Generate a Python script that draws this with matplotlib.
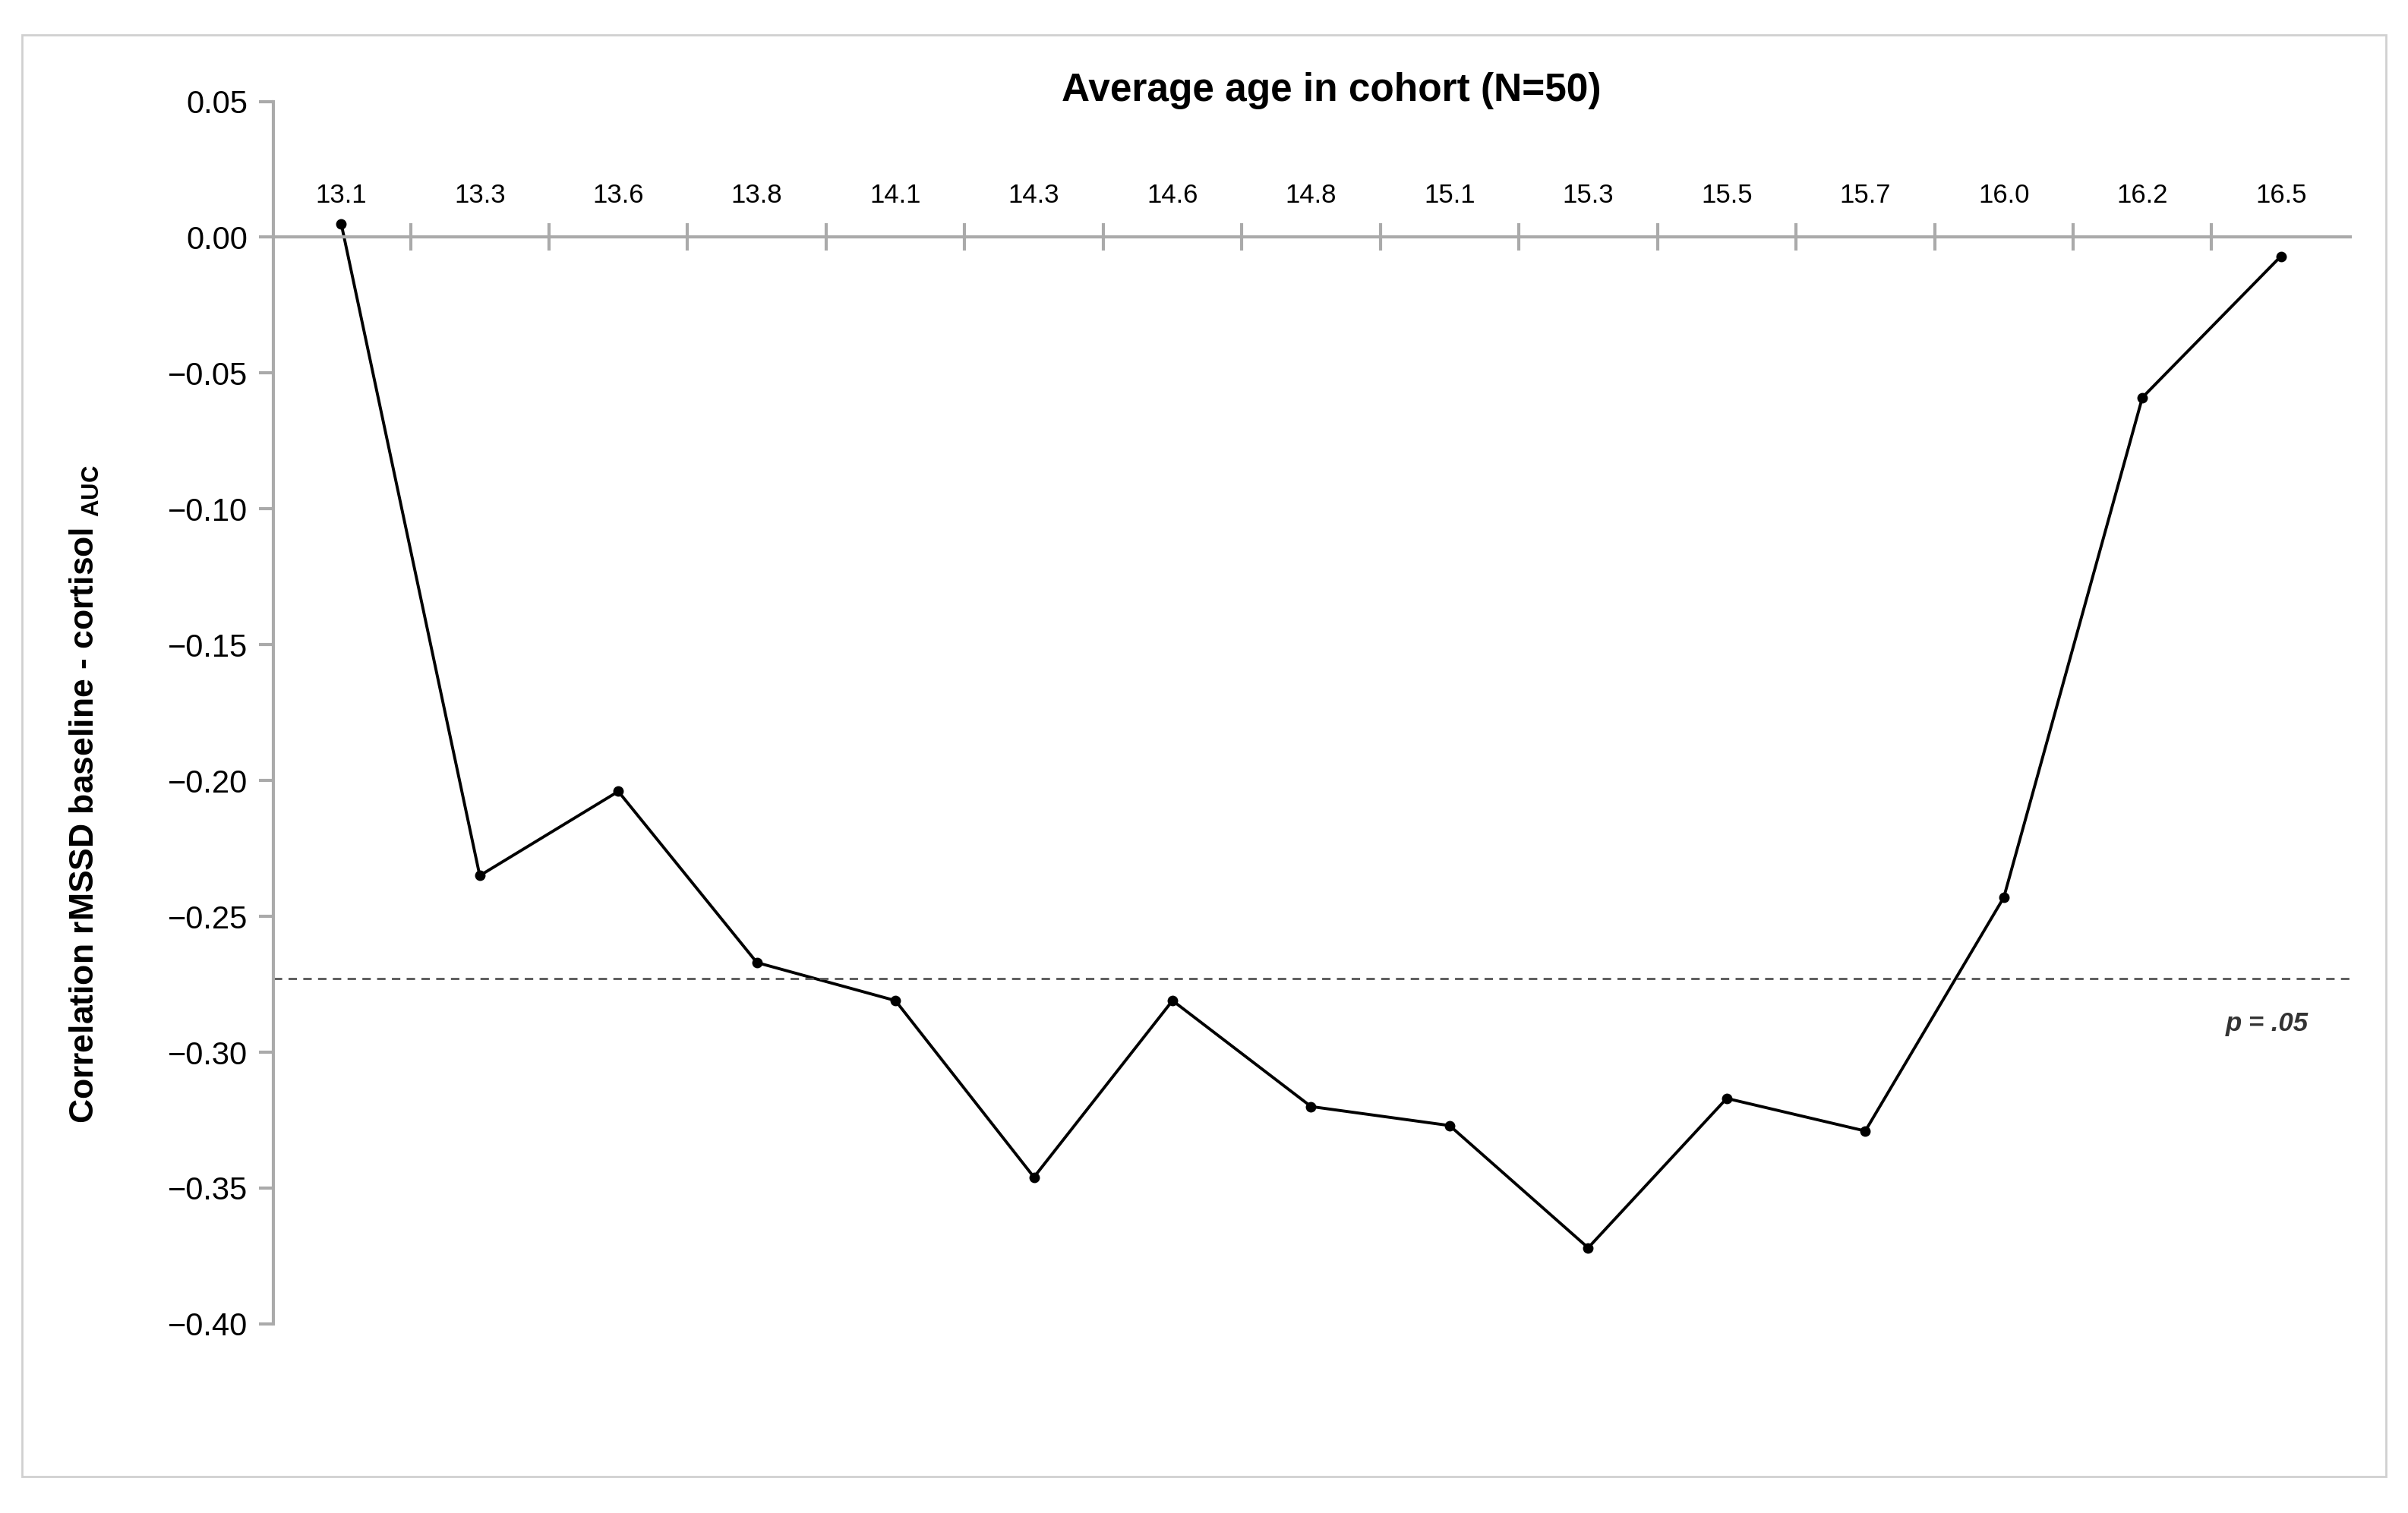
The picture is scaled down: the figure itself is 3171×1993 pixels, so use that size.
import matplotlib
matplotlib.use("Agg")
import matplotlib.pyplot as plt
from matplotlib.patches import Rectangle

plt.rcParams["font.family"] = ["Liberation Sans", "DejaVu Sans"]
plt.rcParams["mathtext.fontset"] = "custom"
plt.rcParams["mathtext.rm"] = "Liberation Sans"

ages = ["13.1","13.3","13.6","13.8","14.1","14.3","14.6","14.8","15.1","15.3","15.5","15.7","16.0","16.2","16.5"]
corr = [0.005,-0.235,-0.204,-0.267,-0.281,-0.346,-0.281,-0.320,-0.327,-0.372,-0.317,-0.329,-0.243,-0.059,-0.007]
p05 = -0.273
yticks = [0.05,0.00,-0.05,-0.10,-0.15,-0.20,-0.25,-0.30,-0.35,-0.40]

fig = plt.figure(figsize=(31.71,19.93), dpi=100)
fig.patches.append(Rectangle((0.009,0.024),0.982,0.953,transform=fig.transFigure,
                             fill=False,edgecolor="#d0d0d0",lw=2))
ax = fig.add_axes([0.1135,0.125,0.8625,0.808])
x = list(range(len(ages)))
ax.plot(x, corr, color="black", lw=2.8, marker="o", ms=9)
ax.axhline(p05, color="#555555", lw=2, ls=(0,(4,3)))
ax.text(len(ages)-1.1, p05-0.012, "p = .05", style="italic", weight="bold",
        fontsize=25, color="#333333", ha="center", va="top")

ax.set_xlim(-0.49, len(ages)-0.5)
ax.set_ylim(-0.40, 0.05)
for s in ["right","bottom"]:
    ax.spines[s].set_visible(False)
gray = "#aaaaaa"
ax.spines["left"].set_color(gray); ax.spines["left"].set_linewidth(3)
ax.spines["top"].set_position(("data",0))
ax.spines["top"].set_color(gray); ax.spines["top"].set_linewidth(3)
ax.xaxis.set_ticks_position("top")
ax.set_xticks(x)
ax.set_xticklabels(ages, fontsize=25)
ax.tick_params(axis="x", which="major", length=0, pad=28)
ax.set_xticks([i+0.5 for i in x[:-1]], minor=True)
ax.tick_params(axis="x", which="minor", direction="inout", length=26, width=3, color=gray)
ax.set_yticks(yticks)
ax.set_yticklabels([f"{v:.2f}".replace("-","\u2212") for v in yticks], fontsize=30)
ax.tick_params(axis="y", length=14, width=3, color=gray, pad=10)

fig.text(0.553, 0.94, "Average age in cohort (N=50)", ha="center", va="center",
         fontsize=37, weight="bold")
fig.text(0.035, 0.475, r"Correlation rMSSD baseline - cortisol $_{\mathregular{AUC}}$",
         rotation=90, ha="center", va="center", fontsize=32, weight="bold")
fig.savefig("out.png", dpi=100)
